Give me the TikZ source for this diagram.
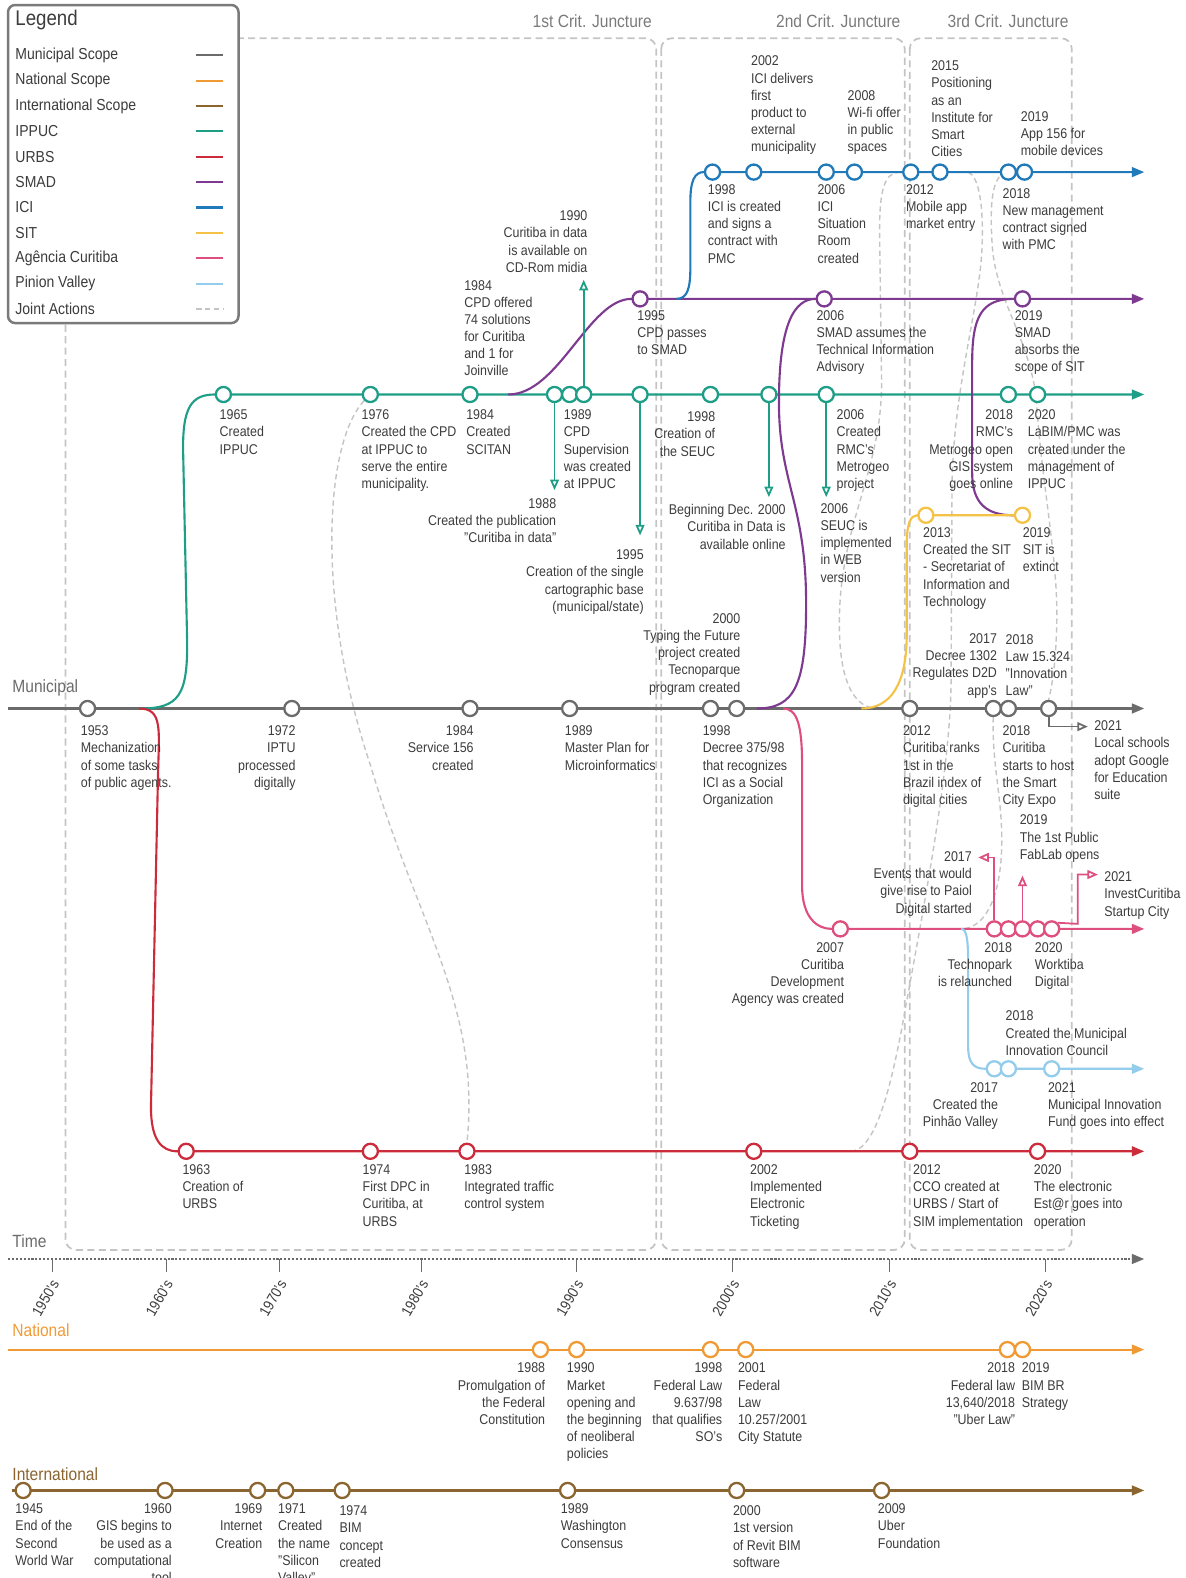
\documentclass[tikz,border=0pt]{standalone}
\usepackage{fontspec}
\setmainfont{Liberation Sans}[FakeStretch=0.88]
\usetikzlibrary{arrows, arrows.meta, positioning, calc}

\definecolor{muni}{HTML}{6B6B6B}
\definecolor{natl}{HTML}{F09A36}
\definecolor{intl}{HTML}{8A6530}
\definecolor{ippuc}{HTML}{1E9E86}
\definecolor{urbs}{HTML}{CC2B3B}
\definecolor{smad}{HTML}{7E3A91}
\definecolor{ici}{HTML}{2079B8}
\definecolor{sit}{HTML}{F4C245}
\definecolor{agen}{HTML}{DE4F7E}
\definecolor{pinion}{HTML}{94CDEB}
\definecolor{jointc}{HTML}{C4C4C4}
\definecolor{txt}{HTML}{3C3C3C}
\definecolor{critc}{HTML}{7A7A7A}

\newcommand{\lbfont}{\fontsize{8}{9.7}\selectfont}
\newcommand{\cjfont}{\fontsize{10}{12}\selectfont}

\pgfdeclarelayer{bg}
\pgfsetlayers{bg,main}

\begin{document}
\begin{tikzpicture}[x=0.02cm, y=-0.02cm, >={Triangle[length=7pt,width=5.5pt]},
    ev/.style={circle, draw=#1, fill=white, line width=1.3pt, minimum size=0.3cm, inner sep=0pt},
    tl/.style={draw=#1, line width=1.2pt},
    lb/.style={font=\lbfont, text=txt, inner sep=0pt, align=left},
    lbr/.style={lb, align=right},
    jt/.style={draw=jointc, line width=0.8pt, dash pattern=on 3pt off 2pt},
    crit/.style={draw=jointc, line width=1pt, dash pattern=on 4pt off 2.5pt, rounded corners=6pt},
    evarrow/.style={draw=#1, line width=1pt, -{Triangle[open,length=6pt,width=5pt]}},
    rowtitle/.style={font=\cjfont, inner sep=0pt, anchor=west, text=#1}]

  \useasboundingbox (0,0) rectangle (1178,1568);

  % circles of the events
  \foreach \n/\x in {53/87, 72/290, 84/467, 89/566, 98/706, 00/732, 12/904, 17/987, 18/1002, 21/1042}
    \node[ev=muni] (m\n) at (\x,704) {};
  \foreach \n/\x in {65/222, 76/368, 84/467, 88/551, 89/566, 90/580, 95/636, 98/706, 00/764, 06/821, 18/1002, 20/1031}
    \node[ev=ippuc] (ip\n) at (\x,392) {};
  \foreach \n/\x in {95/636, 06/819, 19/1016}
    \node[ev=smad] (sm\n) at (\x,297) {};
  \foreach \n/\x in {98/708, 02/749, 06/821, 08/849, 12/905, 15/934, 18/1002, 19/1018}
    \node[ev=ici] (ic\n) at (\x,171) {};
  \foreach \n/\x in {13/920, 19/1016}
    \node[ev=sit] (si\n) at (\x,512) {};
  \foreach \n/\x in {07/835, 17/988, 18/1002, 19/1016, 20/1031, 21/1045}
    \node[ev=agen] (ag\n) at (\x,923) {};
  \foreach \n/\x in {17/988, 18/1002, 21/1045}
    \node[ev=pinion] (pv\n) at (\x,1062) {};
  \foreach \n/\x in {63/185, 74/368, 83/464, 02/749, 12/904, 20/1031}
    \node[ev=urbs] (ur\n) at (\x,1144) {};
  \foreach \n/\x in {88/537, 90/573, 98/706, 01/741, 18/1001, 19/1016}
    \node[ev=natl] (na\n) at (\x,1341) {};
  \foreach \n/\x in {45/23, 60/164, 69/256, 71/284, 74/340, 89/564, 00/732, 09/876}
    \node[ev=intl] (in\n) at (\x,1481) {};

  \coordinate (munS) at (8,704);    \coordinate (munE) at (1137,704);
  \coordinate (ippS) at (140,704);  \coordinate (ippE) at (1137,392);
  \coordinate (urbS) at (138,704);  \coordinate (urbE) at (1137,1144);
  \coordinate (smdS) at (505,392);  \coordinate (smdE) at (1137,297);
  \coordinate (iciS) at (672,297);  \coordinate (iciE) at (1137,171);
  \coordinate (sm06S) at (752,704);
  \coordinate (sitS) at (856,704);
  \coordinate (ageS) at (778,704);  \coordinate (ageE) at (1137,923);
  \coordinate (pinS) at (955,923);  \coordinate (pinE) at (1137,1062);
  \coordinate (natS) at (8,1341);   \coordinate (natE) at (1137,1341);
  \coordinate (intS) at (12,1481);  \coordinate (intE) at (1137,1481);
  \coordinate (timS) at (8,1251);   \coordinate (timE) at (1137,1251);

  \begin{pgfonlayer}{bg}
    \draw[crit] (65,38) rectangle (652,1242);
    \draw[crit] (657,38) rectangle (899,1242);
    \draw[crit] (904,38) rectangle (1065,1242);

    % joint actions
    \draw[jt] (ip76.south west) .. controls (322,440) and (314,600) .. (368,760)
      .. controls (415,920) and (478,1000) .. (ur83.north);
    \draw[jt] (895,171) .. controls (878,171) and (874,190) .. (874,230) -- (876,380)
      .. controls (876,470) and (834,520) .. (834,620) .. controls (834,680) and (850,704) .. (872,704);
    \draw[jt] (962,171) .. controls (972,175) and (977,200) .. (976,240)
      .. controls (975,300) and (948,380) .. (946,480) -- (945,680)
      .. controls (944,760) and (922,880) .. (900,1000) .. controls (886,1080) and (870,1144) .. (845,1144);
    \draw[jt] (1000,171) .. controls (986,175) and (983,200) .. (986,245)
      .. controls (990,300) and (1025,340) .. (1030,400) .. controls (1035,480) and (1052,560) .. (1050,620)
      .. controls (1049,670) and (1043,690) .. (m21.north);
    \draw[jt] (m17.south) .. controls (985,760) and (998,800) .. (995,850)
      .. controls (992,900) and (975,923) .. (pinS);

    % time lines
    \draw[tl=muni, ->] (munS) -- (munE);
    \draw[tl=ippuc, ->] (ippS) .. controls (178,704) and (186,690) .. (186,640) -- (182,450)
      .. controls (181,405) and (190,392) .. (ip65.west) -- (ippE);
    \draw[tl=urbs, ->] (urbS) .. controls (162,704) and (158,725) .. (157,770) -- (150,1100)
      .. controls (150,1132) and (160,1144) .. (ur63.west) -- (urbE);
    \draw[tl=smad, ->] (smdS) .. controls (555,392) and (585,297) .. (sm95.west) -- (smdE);
    \draw[tl=ici, ->] (iciS) .. controls (683,297) and (686,287) .. (686,265) -- (686,200)
      .. controls (686,180) and (690,171) .. (ic98.west) -- (iciE);
    \draw[tl=smad] (sm06S) .. controls (790,704) and (801,680) .. (801,600)
      .. controls (801,500) and (774,480) .. (774,400) .. controls (774,320) and (790,297) .. (sm06.west);
    \draw[tl=smad] (sm19.west) .. controls (975,297) and (966,315) .. (966,360) -- (966,470)
      .. controls (966,500) and (980,512) .. (si19.west);
    \draw[tl=sit] (sitS) .. controls (885,704) and (901,680) .. (901,630) -- (901,540)
      .. controls (901,520) and (905,512) .. (si13.west) -- (si19);
    \draw[tl=agen, ->] (ageS) .. controls (792,704) and (797,720) .. (797,760) -- (797,880)
      .. controls (797,912) and (812,923) .. (ag07.west) -- (ageE);
    \draw[tl=pinion, ->] (pinS) .. controls (961,923) and (962,935) .. (962,960) -- (962,1040)
      .. controls (962,1057) and (968,1062) .. (pv17.west) -- (pinE);
    \draw[tl=natl, ->] (natS) -- (natE);
    \draw[tl=intl, ->] (intS) -- (intE);
    \draw[tl=muni, densely dotted, ->] (timS) -- (timE);
  \end{pgfonlayer}

  % decades
  \foreach \x/\d in {52/1950, 165/1960, 278/1970, 419/1980, 573/1990, 728/2000, 884/2010, 1039/2020} {
    \draw[muni, line width=0.6pt] (\x,1251) -- (\x,1264);
    \node[rotate=60, anchor=east, inner sep=0pt, text=txt, font=\fontsize{8.5}{10}\selectfont] (dec\d) at (\x+3,1273) {\d's};
  }

  % event arrows
  \draw[evarrow=ippuc] (ip88.south) -- (551,487);
  \draw[evarrow=ippuc] (ip90.north) -- (580,278);
  \draw[evarrow=ippuc] (ip95.south) -- (636,532);
  \draw[evarrow=ippuc] (ip00.south) -- (764,494);
  \draw[evarrow=ippuc] (ip06.south) -- (821,494);
  \draw[evarrow=muni] (m21.south) |- (1081,722);
  \draw[evarrow=agen] (ag17.north) |- (972,852);
  \draw[evarrow=agen] (ag19.north) -- (1016,870);
  \draw[evarrow=agen] (ag21.north east) -- (1071,918) |- (1091,869);

  % juncture titles
  \node[font=\cjfont, text=critc, anchor=base east, inner sep=0pt] (cj1) at (648,27) {1st Crit. Juncture};
  \node[font=\cjfont, text=critc, anchor=base east, inner sep=0pt] (cj2) at (895,27) {2nd Crit. Juncture};
  \node[font=\cjfont, text=critc, anchor=base east, inner sep=0pt] (cj3) at (1062,27) {3rd Crit. Juncture};

  % row titles
  \node[rowtitle=muni] (munt) at (12,684) {Municipal};
  \node[rowtitle=muni] (timt) at (12,1233) {Time};
  \node[rowtitle=natl] (natt) at (12,1322) {National};
  \node[rowtitle=intl] (intt) at (12,1465) {International};

  % legend
  \draw[draw=muni!90, line width=1.4pt, fill=white, rounded corners=4pt] (8,5) rectangle (237,321);
  \node[anchor=west, inner sep=0pt, text=txt, font=\fontsize{12}{14}\selectfont] (legt) at (15,20) {Legend};
  \foreach \t/\c [count=\i from 0] in {Municipal Scope/muni, National Scope/natl, International Scope/intl,
      IPPUC/ippuc, URBS/urbs, SMAD/smad, ICI/ici, SIT/sit, Agência Curitiba/agen, Pinion Valley/pinion} {
    \node[anchor=west, inner sep=0pt, text=txt, font=\fontsize{9}{11}\selectfont] (leg\i) at (15,{55+25.2*\i}) {\t};
    \draw[draw=\c, line width=1.2pt] (195,{55+25.2*\i}) -- (222,{55+25.2*\i});
  }
  \node[anchor=west, inner sep=0pt, text=txt, font=\fontsize{9}{11}\selectfont] (legj) at (15,307) {Joint Actions};
  \draw[jt, line width=1.1pt] (195,307) -- (222,307);

  % municipal
  \node[lb, anchor=north west] (m53l) at (80,721) {1953\\Mechanization\\of some tasks\\of public agents.};
  \node[lbr, anchor=north east] (m72l) at (294,721) {1972\\IPTU\\processed\\digitally};
  \node[lbr, anchor=north east] (m84l) at (471,721) {1984\\Service 156\\created};
  \node[lb, anchor=north west] (m89l) at (561,721) {1989\\Master Plan for\\Microinformatics};
  \node[lb, anchor=north west] (m98l) at (698,721) {1998\\Decree 375/98\\that recognizes\\ICI as a Social\\Organization};
  \node[lbr, anchor=south east] (m00l) at (736,691) {2000\\Typing the Future\\project created\\Tecnoparque\\program created};
  \node[lb, anchor=north west] (m12l) at (897,721) {2012\\Curitiba ranks\\1st in the\\Brazil index of\\digital cities};
  \node[lbr, anchor=south east] (m17l) at (991,694) {2017\\Decree 1302\\Regulates D2D\\app's};
  \node[lb, anchor=south west] (m18a) at (999,692) {2018\\Law 15.324\\"Innovation\\Law"};
  \node[lb, anchor=north west] (m18l) at (996,721) {2018\\Curitiba\\starts to host\\the Smart\\City Expo};
  \node[lb, anchor=north west] (m21l) at (1087,716) {2021\\Local schools\\adopt Google\\for Education\\suite};

  % IPPUC
  \node[lb, anchor=north west] (ip65l) at (218,407) {1965\\Created\\IPPUC};
  \node[lb, anchor=north west] (ip76l) at (359,407) {1976\\Created the CPD\\at IPPUC to\\serve the entire\\municipality.};
  \node[lb, anchor=north west] (ip84l) at (463,407) {1984\\Created\\SCITAN};
  \node[lb, anchor=north west] (ip89l) at (560,407) {1989\\CPD\\Supervision\\was created\\at IPPUC};
  \node[lbr, anchor=north east] (ip98l) at (711,409) {1998\\Creation of\\the SEUC};
  \node[lb, anchor=north west] (ip06l) at (831,407) {2006\\Created\\RMC's\\Metrogeo\\project};
  \node[lbr, anchor=north east] (ip18l) at (1007,407) {2018\\RMC's\\Metrogeo open\\GIS system\\goes online};
  \node[lb, anchor=north west] (ip20l) at (1021,407) {2020\\LaBIM/PMC was\\created under the\\management of\\IPPUC};
  \node[lbr, anchor=north east] (ip88l) at (553,495) {1988\\Created the publication\\"Curitiba in data"};
  \node[lbr, anchor=north east] (ip95l) at (640,546) {1995\\Creation of the single\\cartographic base\\(municipal/state)};
  \node[lbr, anchor=south east] (ip90l) at (584,271) {1990\\Curitiba in data\\is available on\\CD-Rom midia};
  \node[lbr, anchor=north east] (ip00l) at (781,501) {Beginning Dec. 2000\\Curitiba in Data is\\available online};
  \node[lb, anchor=north west] (ip06b) at (815,500) {2006\\SEUC is\\implemented\\in WEB\\version};
  \node[lb, anchor=south west] (ip84a) at (461,374) {1984\\CPD offered\\74 solutions\\for Curitiba\\and 1 for\\Joinville};

  % SMAD
  \node[lb, anchor=north west] (sm95l) at (633,308) {1995\\CPD passes\\to SMAD};
  \node[lb, anchor=north west] (sm06l) at (811,308) {2006\\SMAD assumes the\\Technical Information\\Advisory};
  \node[lb, anchor=north west] (sm19l) at (1008,308) {2019\\SMAD\\absorbs the\\scope of SIT};

  % ICI
  \node[lb, anchor=north west] (ic98l) at (703,183) {1998\\ICI is created\\and signs a\\contract with\\PMC};
  \node[lb, anchor=south west] (ic02l) at (746,154) {2002\\ICI delivers\\first\\product to\\external\\municipality};
  \node[lb, anchor=north west] (ic06l) at (812,183) {2006\\ICI\\Situation\\Room\\created};
  \node[lb, anchor=south west] (ic08l) at (842,154) {2008\\Wi-fi offer\\in public\\spaces};
  \node[lb, anchor=north west] (ic12l) at (900,183) {2012\\Mobile app\\market entry};
  \node[lb, anchor=south west] (ic15l) at (925,156) {2015\\Positioning\\as an\\Institute for\\Smart\\Cities};
  \node[lb, anchor=north west] (ic18l) at (996,187) {2018\\New management\\contract signed\\with PMC};
  \node[lb, anchor=south west] (ic19l) at (1014,155) {2019\\App 156 for\\mobile devices};

  % SIT
  \node[lb, anchor=north west] (si13l) at (917,524) {2013\\Created the SIT\\- Secretariat of\\Information and\\Technology};
  \node[lb, anchor=north west] (si19l) at (1016,524) {2019\\SIT is\\extinct};

  % Agencia Curitiba
  \node[lbr, anchor=north east] (ag17l) at (966,846) {2017\\Events that would\\give rise to Paiol\\Digital started};
  \node[lb, anchor=south west] (ag19l) at (1013,857) {2019\\The 1st Public\\FabLab opens};
  \node[lb, anchor=north west] (ag21l) at (1097,866) {2021\\InvestCuritiba\\Startup City};
  \node[lbr, anchor=north east] (ag07l) at (839,936) {2007\\Curitiba\\Development\\Agency was created};
  \node[lbr, anchor=north east] (ag18l) at (1006,936) {2018\\Technopark\\is relaunched};
  \node[lb, anchor=north west] (ag20l) at (1028,936) {2020\\Worktiba\\Digital};

  % Pinion Valley
  \node[lb, anchor=south west] (pv18l) at (999,1049) {2018\\Created the Municipal\\Innovation Council};
  \node[lbr, anchor=north east] (pv17l) at (992,1075) {2017\\Created the\\Pinhão Valley};
  \node[lb, anchor=north west] (pv21l) at (1041,1075) {2021\\Municipal Innovation\\Fund goes into effect};

  % URBS
  \node[lb, anchor=north west] (ur63l) at (181,1157) {1963\\Creation of\\URBS};
  \node[lb, anchor=north west] (ur74l) at (360,1157) {1974\\First DPC in\\Curitiba, at\\URBS};
  \node[lb, anchor=north west] (ur83l) at (461,1157) {1983\\Integrated traffic\\control system};
  \node[lb, anchor=north west] (ur02l) at (745,1157) {2002\\Implemented\\Electronic\\Ticketing};
  \node[lb, anchor=north west] (ur12l) at (907,1157) {2012\\CCO created at\\URBS / Start of\\SIM implementation};
  \node[lb, anchor=north west] (ur20l) at (1027,1157) {2020\\The electronic\\Est@r goes into\\operation};

  % national
  \node[lbr, anchor=north east] (na88l) at (542,1354) {1988\\Promulgation of\\the Federal\\Constitution};
  \node[lb, anchor=north west] (na90l) at (563,1354) {1990\\Market\\opening and\\the beginning\\of neoliberal\\policies};
  \node[lbr, anchor=north east] (na98l) at (718,1354) {1998\\Federal Law\\9.637/98\\that qualifies\\SO's};
  \node[lb, anchor=north west] (na01l) at (733,1354) {2001\\Federal\\Law\\10.257/2001\\City Statute};
  \node[lbr, anchor=north east] (na18l) at (1009,1354) {2018\\Federal law\\13,640/2018\\"Uber Law"};
  \node[lb, anchor=north west] (na19l) at (1015,1354) {2019\\BIM BR\\Strategy};

  % international
  \node[lb, anchor=north west] (in45l) at (15,1494) {1945\\End of the\\Second\\World War};
  \node[lbr, anchor=north east] (in60l) at (171,1494) {1960\\GIS begins to\\be used as a\\computational\\tool};
  \node[lbr, anchor=north east] (in69l) at (261,1494) {1969\\Internet\\Creation};
  \node[lb, anchor=north west] (in71l) at (276,1494) {1971\\Created\\the name\\"Silicon\\Valley"};
  \node[lb, anchor=north west] (in74l) at (337,1496) {1974\\BIM\\concept\\created};
  \node[lb, anchor=north west] (in89l) at (557,1494) {1989\\Washington\\Consensus};
  \node[lb, anchor=north west] (in00l) at (728,1496) {2000\\1st version\\of Revit BIM\\software};
  \node[lb, anchor=north west] (in09l) at (872,1494) {2009\\Uber\\Foundation};
\end{tikzpicture}
\end{document}
